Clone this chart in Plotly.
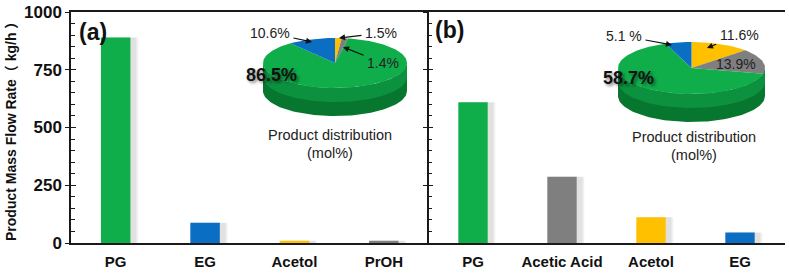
import numpy as np
import plotly.graph_objects as go

# ---------------- data ----------------
cats_a = ["PG", "EG", "Acetol", "PrOH"]
flow_a = [890, 88, 10, 10]
cats_b = ["PG", "Acetic Acid", "Acetol", "EG"]
flow_b = [609, 287, 111, 45]

# pie slices, listed clockwise from 12 o'clock
pie_a_names = ["Acetol", "PrOH", "PG", "EG"]
pie_a_vals = [1.5, 1.4, 86.5, 10.6]
pie_b_names = ["Acetol", "Acetic Acid", "PG", "EG"]
pie_b_vals = [11.6, 13.9, 58.7, 5.1]

y_ticks = [0, 250, 500, 750, 1000]

# ---------------- style ----------------
W, H = 789, 274
COL = {"PG": "#0fae4b", "EG": "#0a6fc2", "Acetol": "#ffc000",
       "PrOH": "#7f7f7f", "Acetic Acid": "#7f7f7f"}
RIM = "#07772f"
RIM2 = "#0c923f"
SHADOW = "rgba(0,0,0,0.06)"
FONT = "Liberation Sans, Arial, sans-serif"
AX = "#1a1a1a"


def px(x):
    return x / W


def py(y):
    return 1 - y / H


fig = go.Figure()

# soft bar shadows (drawn first, slightly offset to the right)
for off, wd in [(-0.13, 0.36), (-0.12, 0.37)]:
    fig.add_trace(go.Bar(x=cats_a, y=flow_a, marker_color=SHADOW, marker_line_width=0,
                         offset=off, width=wd, xaxis="x", yaxis="y", hoverinfo="skip"))
    fig.add_trace(go.Bar(x=cats_b, y=flow_b, marker_color=SHADOW, marker_line_width=0,
                         offset=off, width=wd, xaxis="x2", yaxis="y2", hoverinfo="skip"))
# bars
fig.add_trace(go.Bar(x=cats_a, y=flow_a, marker_color=[COL[c] for c in cats_a],
                     marker_line_width=0, offset=-0.165, width=0.33,
                     xaxis="x", yaxis="y", hoverinfo="x+y"))
fig.add_trace(go.Bar(x=cats_b, y=flow_b, marker_color=[COL[c] for c in cats_b],
                     marker_line_width=0, offset=-0.165, width=0.33,
                     xaxis="x2", yaxis="y2", hoverinfo="x+y"))

# invisible traces for the crossing-tick overlay axes
fig.add_trace(go.Scatter(x=[cats_a[0]], y=[0], xaxis="x", yaxis="y5", mode="markers",
                         marker_opacity=0, hoverinfo="skip"))
fig.add_trace(go.Scatter(x=[cats_b[0]], y=[0], xaxis="x2", yaxis="y6", mode="markers",
                         marker_opacity=0, hoverinfo="skip"))


def add_pie(names, vals, xa, ya, T):
    tot = float(sum(vals))
    # rim (3-D side)
    th = np.linspace(np.pi / 2, 3 * np.pi / 2, 80)
    xs = list(np.sin(th)) + list(np.sin(th[::-1]))
    ys = list(np.cos(th) - T) + list(np.cos(th[::-1]))
    fig.add_trace(go.Scatter(x=xs, y=ys, fill="toself", fillcolor=RIM, mode="lines",
                             line_width=0, xaxis=xa, yaxis=ya, hoverinfo="skip"))
    ys2 = list(np.cos(th) - T * 0.5) + list(np.cos(th[::-1]))
    fig.add_trace(go.Scatter(x=xs, y=ys2, fill="toself", fillcolor=RIM2, mode="lines",
                             line_width=0, xaxis=xa, yaxis=ya, hoverinfo="skip"))
    # top surface wedges
    f0 = 0.0
    for n, v in zip(names, vals):
        f1 = f0 + v / tot
        t = np.linspace(2 * np.pi * f0, 2 * np.pi * f1, max(4, int(200 * (f1 - f0))))
        wx = [0] + list(np.sin(t)) + [0]
        wy = [0] + list(np.cos(t)) + [0]
        fig.add_trace(go.Scatter(x=wx, y=wy, fill="toself", fillcolor=COL[n], mode="lines",
                                 line_width=0, xaxis=xa, yaxis=ya, name=n,
                                 hoverinfo="name"))
        f0 = f1


# pie (a): top-surface centre (335,63), semi-axes 72 x 25 px, rim 28 px
TA = 28 / 25
add_pie(pie_a_names, pie_a_vals, "x3", "y3", TA)
# pie (b): centre (691.5,68), semi-axes 73.5 x 26 px, rim 28 px
TB = 28 / 26
add_pie(pie_b_names, pie_b_vals, "x4", "y4", TB)

tickfont = dict(family=FONT, size=17, color="#111", weight="bold")
catfont = dict(family=FONT, size=15, color="#111", weight="bold")

xa_dom = [px(71), px(428.5)]
xb_dom = [px(428.5), px(784.5)]
y_dom = [py(243), py(12)]

common_y = dict(range=[0, 1000], domain=y_dom, showgrid=False, zeroline=False,
                automargin=False,
                showline=True, linecolor=AX, linewidth=1.5,
                tickvals=y_ticks, ticks="inside", ticklen=5, tickwidth=1.3, tickcolor=AX,
                minor=dict(dtick=50, ticks="inside", ticklen=4, tickwidth=1.1, tickcolor=AX))

fig.update_layout(
    width=W, height=H, margin=dict(l=0, r=0, t=0, b=0, autoexpand=False),
    paper_bgcolor="white", plot_bgcolor="white", showlegend=False,
    barmode="overlay",
    xaxis=dict(domain=xa_dom, anchor="y", showline=True, mirror=True, linecolor=AX,
               linewidth=1.5, ticks="", tickfont=catfont, showgrid=False,
               ticklabelstandoff=4, automargin=False),
    yaxis=dict(anchor="x", tickfont=tickfont, ticklabelstandoff=4, **common_y),
    yaxis5=dict(overlaying="y", anchor="x", range=[0, 1000], showline=False,
                showgrid=False, zeroline=False, tickvals=y_ticks, ticks="outside",
                ticklen=5, tickwidth=1.3, tickcolor=AX, showticklabels=False,
                automargin=False),
    xaxis2=dict(domain=xb_dom, anchor="y2", showline=True, mirror=True, linecolor=AX,
                linewidth=1.5, ticks="", tickfont=catfont, showgrid=False,
                ticklabelstandoff=4, automargin=False),
    yaxis2=dict(anchor="x2", showticklabels=False, **common_y),
    yaxis6=dict(overlaying="y2", anchor="x2", range=[0, 1000], showline=False,
                showgrid=False, zeroline=False, tickvals=y_ticks, ticks="outside",
                ticklen=5, tickwidth=1.3, tickcolor=AX, showticklabels=False,
                automargin=False),
    xaxis3=dict(domain=[px(263), px(407)], range=[-1, 1], anchor="y3", visible=False,
                automargin=False),
    yaxis3=dict(domain=[py(63 + 25 + 28), py(63 - 25)], range=[-(1 + TA), 1],
                anchor="x3", visible=False, automargin=False),
    xaxis4=dict(domain=[px(618), px(765)], range=[-1, 1], anchor="y4", visible=False,
                automargin=False),
    yaxis4=dict(domain=[py(68 + 26 + 28), py(68 - 26)], range=[-(1 + TB), 1],
                anchor="x4", visible=False, automargin=False),
)

ann = []
lab = dict(family=FONT, size=14, color="#222")
cap = dict(family=FONT, size=14.5, color="#222")
big = dict(family=FONT, size=18, color="#111", weight="bold",
           shadow="2px 2px 3px rgba(0,0,0,0.45)")


def txt(x, y, s, font, **kw):
    ann.append(dict(x=px(x), y=py(y), xref="paper", yref="paper", text=s,
                    xanchor="center", yanchor="middle",
                    showarrow=False, font=font, **kw))


def arrow(hx, hy, tx, ty, s):
    ann.append(dict(x=px(hx), y=py(hy), xref="paper", yref="paper", text=s,
                    showarrow=True, ax=tx - hx, ay=ty - hy, arrowhead=2, arrowsize=1,
                    arrowwidth=1.2, arrowcolor="#111", standoff=0, startstandoff=2,
                    font=lab))


# panel labels
txt(93, 32, "(a)", dict(family=FONT, size=23, color="#111", weight="bold"))
txt(449, 30, "(b)", dict(family=FONT, size=23, color="#111", weight="bold"))

# y-axis title
txt(11, 128, "Product Mass Flow Rate（ kg/h ）",
    dict(family=FONT + ", Noto Sans CJK SC", size=14, color="#111", weight="bold"),
    textangle=-90)

# pie (a) labels
arrow(312, 42, 270, 33, "10.6%")
arrow(339, 38, 381, 33, "1.5%")
arrow(343, 47, 383, 63, "1.4%")
txt(271, 75, "86.5%", big)
txt(330, 135, "Product distribution", cap)
txt(330, 153, "(mol%)", cap)

# pie (b) labels
arrow(672, 45, 624, 36, "5.1 %")
arrow(707, 48, 739, 35, "11.6%")
txt(736, 64, "13.9%", lab)
txt(628, 78, "58.7%", big)
txt(694, 137, "Product distribution", cap)
txt(694, 155, "(mol%)", cap)

fig.update_layout(annotations=ann)
fig.write_html("out.html", config={"displayModeBar": False},
               post_script="document.body.style.margin='0';"
                           "document.body.style.overflow='hidden';")
